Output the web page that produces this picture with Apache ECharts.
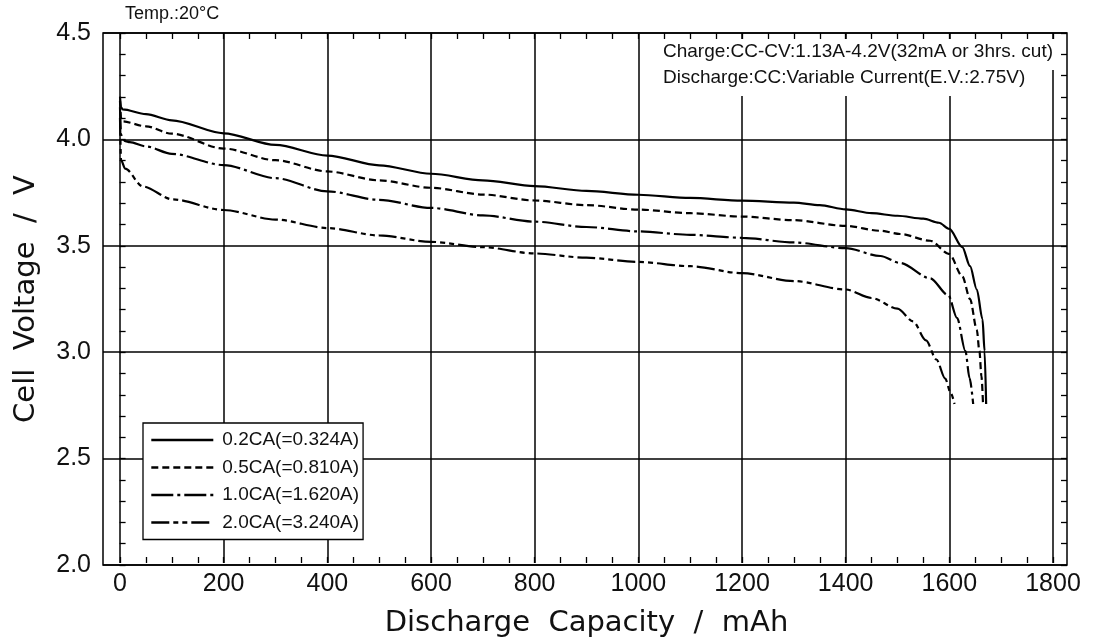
<!DOCTYPE html>
<html>
<head>
<meta charset="utf-8">
<script src="https://cdn.jsdelivr.net/npm/echarts@6/dist/echarts.min.js"></script>
<style>html,body{margin:0;padding:0;background:#fff}#c{width:1093px;height:643px}</style>
</head>
<body>
<div id="c"></div>
<script>
// ---- data ----
var seriesNames = ['0.2CA(=0.324A)', '0.5CA(=0.810A)', '1.0CA(=1.620A)', '2.0CA(=3.240A)'];
var xTicks = [0, 200, 400, 600, 800, 1000, 1200, 1400, 1600, 1800];
var yTicks = [2.0, 2.5, 3.0, 3.5, 4.0, 4.5];

var cap02 = [0, 2, 5, 50, 100, 200, 300, 400, 500, 600, 700, 800, 900, 1000, 1100, 1200, 1300, 1350, 1400, 1450, 1500, 1550, 1580, 1600, 1625, 1640, 1653, 1664, 1668, 1671];
var volt02 = [4.20, 4.15, 4.14, 4.117, 4.088, 4.027, 3.972, 3.922, 3.876, 3.836, 3.805, 3.778, 3.755, 3.737, 3.722, 3.709, 3.70, 3.688, 3.668, 3.65, 3.638, 3.624, 3.605, 3.576, 3.49, 3.40, 3.29, 3.15, 3.0, 2.75];

var cap05 = [0, 2, 5, 50, 100, 200, 300, 400, 500, 600, 700, 800, 900, 1000, 1100, 1200, 1300, 1400, 1467, 1505, 1563, 1600, 1625, 1640, 1653, 1658, 1662, 1665];
var volt05 = [4.18, 4.10, 4.083, 4.06, 4.025, 3.955, 3.90, 3.847, 3.805, 3.77, 3.738, 3.71, 3.688, 3.667, 3.65, 3.634, 3.617, 3.59, 3.567, 3.552, 3.52, 3.457, 3.353, 3.245, 3.10, 3.0, 2.88, 2.75];

var cap10 = [0, 2, 10, 19, 50, 100, 200, 300, 400, 500, 600, 700, 800, 900, 1000, 1100, 1200, 1300, 1400, 1467, 1505, 1563, 1598, 1615, 1631, 1639, 1646];
var volt10 = [4.15, 4.02, 3.99, 3.985, 3.965, 3.93, 3.877, 3.815, 3.753, 3.713, 3.675, 3.64, 3.61, 3.585, 3.564, 3.548, 3.534, 3.512, 3.485, 3.448, 3.415, 3.343, 3.263, 3.155, 3.0, 2.873, 2.75];

var cap20 = [0, 2, 10, 44, 102, 200, 300, 400, 500, 600, 700, 800, 900, 1000, 1100, 1200, 1300, 1400, 1450, 1500, 1530, 1555, 1575, 1592, 1603, 1610];
var volt20 = [4.10, 3.90, 3.86, 3.776, 3.715, 3.665, 3.62, 3.58, 3.545, 3.515, 3.49, 3.46, 3.44, 3.42, 3.40, 3.367, 3.33, 3.29, 3.25, 3.20, 3.14, 3.05, 2.96, 2.87, 2.80, 2.75];

function pairs(xs, ys) { return xs.map(function (x, i) { return [x, ys[i]]; }); }

var caps = [cap02, cap05, cap10, cap20];
var volts = [volt02, volt05, volt10, volt20];
var dashes = ['solid', [7, 4], [22, 4, 3, 4], [18, 4, 5, 4, 5, 4]];

var chart = echarts.init(document.getElementById('c'), null, {renderer: 'canvas'});
var FONT = 'Liberation Sans, Arial, sans-serif';
var WIDE = 'DejaVu Sans, sans-serif';
var INK = '#111';

var series = seriesNames.map(function (name, i) {
  return {
    name: name,
    type: 'line',
    xAxisIndex: 0,
    yAxisIndex: 2,
    data: pairs(caps[i], volts[i]),
    symbol: 'none',
    smooth: 0.3,
    smoothMonotone: 'x',
    lineStyle: {color: '#000', width: 2.2, type: dashes[i]},
    itemStyle: {color: '#000'},
    z: 5
  };
});

var tickStyle = {color: '#000', width: 1.3};

var option = {
  backgroundColor: '#fff',
  animation: false,
  textStyle: {fontFamily: FONT},
  grid: [
    {left: 103, right: 26, top: 33, bottom: 78, show: true, borderColor: '#000', borderWidth: 1.5, backgroundColor: 'transparent'},
    {left: 120, right: 40, top: 33, bottom: 78}
  ],
  xAxis: [
    {
      gridIndex: 1, type: 'value', position: 'bottom',
      min: xTicks[0], max: xTicks[xTicks.length - 1], interval: xTicks[1] - xTicks[0],
      axisLine: {show: false},
      axisTick: {show: true, inside: true, length: 6, lineStyle: tickStyle},
      minorTick: {show: true, splitNumber: 4, length: 6, lineStyle: tickStyle},
      splitLine: {show: true, lineStyle: {color: '#000', width: 1.5}},
      axisLabel: {fontSize: 25, color: INK, margin: 9, fontFamily: FONT, formatter: function (v) { return String(v); }},
      name: 'Discharge  Capacity  /  mAh', nameLocation: 'middle', nameGap: 46,
      nameTextStyle: {fontSize: 29, color: INK, fontFamily: WIDE}
    },
    {
      gridIndex: 1, type: 'value', position: 'top',
      min: xTicks[0], max: xTicks[xTicks.length - 1], interval: xTicks[1] - xTicks[0],
      axisLine: {show: false},
      axisTick: {show: true, inside: true, length: 6, lineStyle: tickStyle},
      minorTick: {show: true, splitNumber: 4, length: 6, lineStyle: tickStyle},
      splitLine: {show: false},
      axisLabel: {show: false}
    },
    {gridIndex: 0, type: 'value', min: -32, max: 1827, show: false}
  ],
  yAxis: [
    {
      gridIndex: 0, type: 'value', position: 'left',
      min: yTicks[0], max: yTicks[yTicks.length - 1], interval: 0.5,
      axisLine: {show: false},
      axisTick: {show: true, inside: true, length: 6, lineStyle: tickStyle},
      minorTick: {show: true, splitNumber: 5, length: 6, lineStyle: tickStyle},
      splitLine: {show: true, lineStyle: {color: '#000', width: 1.5}},
      axisLabel: {fontSize: 25, color: INK, margin: 12, fontFamily: FONT, formatter: function (v) { return v.toFixed(1); }},
      name: 'Cell  Voltage  /  V', nameLocation: 'middle', nameGap: 62,
      nameTextStyle: {fontSize: 29, color: INK, fontFamily: WIDE}
    },
    {
      gridIndex: 0, type: 'value', position: 'right',
      min: yTicks[0], max: yTicks[yTicks.length - 1], interval: 0.5,
      axisLine: {show: false},
      axisTick: {show: true, inside: true, length: 6, lineStyle: tickStyle},
      minorTick: {show: true, splitNumber: 5, length: 6, lineStyle: tickStyle},
      splitLine: {show: false},
      axisLabel: {show: false}
    },
    {gridIndex: 1, type: 'value', min: yTicks[0], max: yTicks[yTicks.length - 1], show: false}
  ],
  legend: {
    show: true,
    orient: 'vertical',
    left: 143, top: 423,
    data: seriesNames,
    itemWidth: 62, itemHeight: 20, itemGap: 7.5,
    padding: [7, 4, 7, 7],
    backgroundColor: '#fff',
    borderColor: '#000', borderWidth: 1.3, borderRadius: 0,
    itemStyle: {opacity: 0},
    lineStyle: {width: 2.6},
    textStyle: {fontSize: 19, lineHeight: 20, color: INK, fontFamily: FONT, padding: [0, 0, 0, 4]},
    selectedMode: false,
    z: 20
  },
  graphic: [
    {type: 'text', left: 125, top: 5, z: 100, style: {text: 'Temp.:20°C', fontSize: 18, fill: INK, fontFamily: FONT}},
    {type: 'rect', shape: {x: 651, y: 39, width: 398, height: 57}, style: {fill: '#fff'}, z: 90},
    {type: 'rect', shape: {x: 1049, y: 39, width: 8, height: 31}, style: {fill: '#fff'}, z: 90},
    {type: 'text', left: 663, top: 42, z: 100, style: {text: 'Charge:CC-CV:1.13A-4.2V(32mA or 3hrs. cut)', fontSize: 19, fill: INK, fontFamily: FONT}},
    {type: 'text', left: 663, top: 68, z: 100, style: {text: 'Discharge:CC:Variable Current(E.V.:2.75V)', fontSize: 19, fill: INK, fontFamily: FONT}}
  ],
  series: series
};
chart.setOption(option);
</script>
</body>
</html>
